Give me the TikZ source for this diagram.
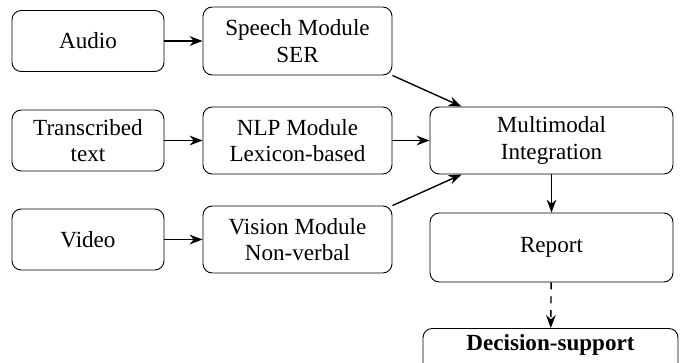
\documentclass[tikz,border=0pt]{standalone}
\usepackage{fontspec}
\setmainfont{Liberation Serif}
\usetikzlibrary{arrows.meta}
\newdimen\pxu
\pxu=0.4328pt
\begin{document}
\begin{tikzpicture}[x=0.4328pt,y=-0.4328pt,
  box/.style={draw, rounded corners=4pt, align=center, font=\fontsize{10}{11.5}\selectfont, inner sep=2pt},
  inbox/.style={box, minimum width=152\pxu, minimum height=61\pxu},
  modbox/.style={box, minimum width=189\pxu, minimum height=67\pxu},
  bigbox/.style={box, minimum width=243\pxu, minimum height=68\pxu},
  arr/.style={semithick, -{Stealth[length=5.6pt, width=4.2pt]}}]
\useasboundingbox (0,0) rectangle (685,362);
\node[inbox] (audio) at (88,41) {Audio};
\node[inbox] (text) at (88,140.5) {Transcribed\\text};
\node[inbox] (video) at (88,239.5) {Video};
\node[modbox, minimum height=68\pxu] (speech) at (297.5,41) {Speech Module\\SER};
\node[modbox] (nlp) at (297.5,140.5) {NLP Module\\Lexicon-based};
\node[modbox] (vision) at (297.5,239.5) {Vision Module\\Non-verbal};
\node[bigbox, minimum height=67\pxu] (fusion) at (551.5,140.5) {Multimodal\\Integration};
\node[bigbox, minimum height=69\pxu] (report) at (551.5,247.5) {Report};
\node[box, anchor=north, minimum width=255\pxu, inner sep=3pt, text height=6.5pt, text depth=12pt, font=\fontsize{10}{11.5}\selectfont\bfseries] (decision) at (550.5,328) {Decision-support};
\draw[arr] (audio) -- (speech);
\draw[arr] (text) -- (nlp);
\draw[arr] (video) -- (vision);
\draw[arr] (nlp) -- (fusion);
\draw[arr] (speech.south east) -- ([xshift=32\pxu]fusion.north west);
\draw[arr] (vision.north east) -- ([xshift=32\pxu]fusion.south west);
\draw[arr] (fusion) -- (report);
\draw[arr, dashed] (report) -- (decision);
\end{tikzpicture}
\end{document}
